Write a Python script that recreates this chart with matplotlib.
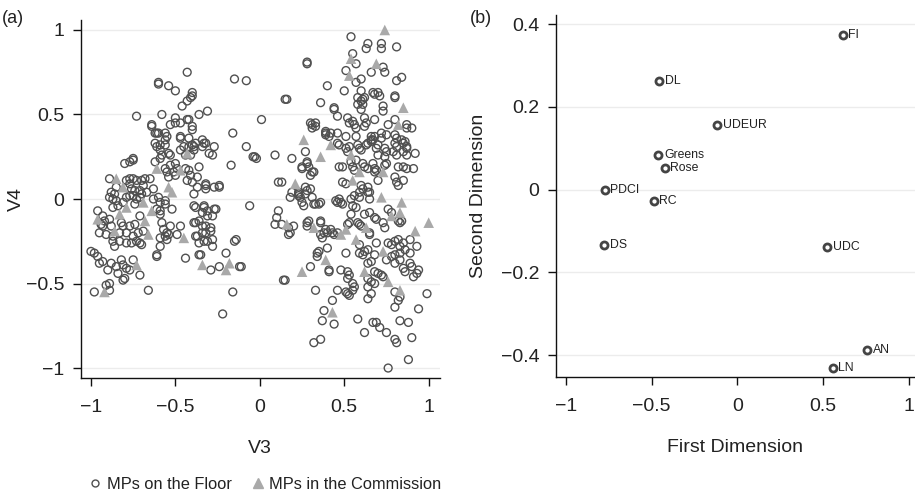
import matplotlib
matplotlib.use("Agg")
import matplotlib.pyplot as plt
from matplotlib.lines import Line2D

plt.rcParams['font.family'] = ['Liberation Sans', 'DejaVu Sans']

# ---------------- Panel (a) data ----------------
floor_left = [
    (-0.60,0.69),(-0.60,0.68),(-0.54,0.67),(-0.50,0.64),(-0.43,0.75),(-0.40,0.63),(-0.40,0.61),(-0.43,0.58),(-0.46,0.55),(-0.41,0.60),
    (-0.73,0.49),(-0.58,0.50),(-0.50,0.48),(-0.43,0.47),(-0.36,0.50),(-0.31,0.52),(-0.64,0.43),(-0.53,0.44),(-0.50,0.45),(-0.47,0.45),
    (-0.42,0.47),(-0.40,0.43),(-0.40,0.41),(-0.61,0.39),(-0.56,0.39),(-0.55,0.37),(-0.47,0.37),(-0.42,0.36),(-0.62,0.33),(-0.59,0.32),
    (-0.56,0.32),(-0.39,0.31),(-0.34,0.35),(-0.32,0.33),(-0.27,0.31),(-0.30,0.27),(-0.28,0.26),(-0.64,0.44),(-0.62,0.39),(-0.60,0.39),
    (-0.56,0.35),(-0.47,0.36),(-0.38,0.33),(-0.33,0.33),(-0.34,0.31),(-0.61,0.31),(-0.59,0.29),(-0.54,0.27),(-0.47,0.29),(-0.45,0.31),
    (-0.42,0.31),(-0.40,0.32),(-0.39,0.29),(-0.58,0.26),(-0.53,0.26),(-0.44,0.26),(-0.41,0.26),(-0.75,0.24),(-0.62,0.22),(-0.59,0.24),
    (-0.53,0.20),(-0.50,0.21),(-0.80,0.21),(-0.77,0.22),(-0.75,0.23),(-0.56,0.18),(-0.55,0.16),(-0.54,0.13),(-0.51,0.16),(-0.50,0.14),
    (-0.49,0.18),(-0.44,0.18),(-0.42,0.17),(-0.41,0.14),(-0.43,0.11),(-0.40,0.10),(-0.37,0.13),(-0.36,0.19),(-0.32,0.09),(-0.32,0.06),
    (-0.32,0.08),(-0.27,0.07),(-0.24,0.08),(-0.24,0.07),(-0.37,0.07),(-0.39,0.03),(-0.89,0.12),(-0.88,0.04),(-0.85,0.07),(-0.86,0.03),
    (-0.89,0.01),(-0.79,0.11),(-0.77,0.12),(-0.75,0.12),(-0.73,0.11),(-0.70,0.11),(-0.68,0.12),(-0.65,0.12),(-0.77,0.09),(-0.76,0.06),
    (-0.74,0.05),(-0.71,0.05),(-0.69,0.08),(-0.70,0.03),(-0.67,0.04),(-0.63,0.06),(-0.87,0.00),(-0.85,-0.01),(-0.84,-0.04),(-0.87,-0.05),
    (-0.81,-0.02),(-0.79,0.01),(-0.77,0.02),(-0.75,0.02),(-0.73,0.00),(-0.71,0.01),(-0.74,-0.03),(-0.63,0.00),(-0.60,0.01),(-0.59,-0.02),
    (-0.61,-0.06),(-0.59,-0.09),(-0.59,-0.07),(-0.56,-0.01),(-0.52,-0.06),(-0.56,-0.03),(-0.39,-0.04),(-0.38,-0.05),(-0.33,-0.05),(-0.34,-0.08),
    (-0.31,-0.10),(-0.26,-0.06),(-0.33,-0.04),(-0.31,-0.07),(-0.28,-0.10),(-0.27,-0.06),(-0.96,-0.07),(-0.93,-0.10),(-0.92,-0.13),(-0.94,-0.15),
    (-0.95,-0.20),(-0.91,-0.21),(-0.93,-0.16),(-0.89,-0.12),(-0.88,-0.16),(-0.87,-0.22),(-0.83,-0.20),(-0.87,-0.25),(-0.82,-0.14),(-0.81,-0.16),
    (-0.79,-0.20),(-0.77,-0.16),(-0.74,-0.15),(-0.75,-0.22),(-0.72,-0.20),(-0.73,-0.25),(-0.71,-0.10),(-0.69,-0.19),(-0.70,-0.27),(-0.71,-0.26),
    (-0.76,-0.26),(-0.79,-0.26),(-0.83,-0.25),(-0.86,-0.28),(-0.58,-0.14),(-0.57,-0.18),(-0.55,-0.20),(-0.56,-0.22),(-0.59,-0.23),(-0.55,-0.24),
    (-0.54,-0.21),(-0.53,-0.16),(-0.59,-0.28),(-0.61,-0.33),(-0.61,-0.34),(-0.47,-0.16),(-0.49,-0.21),(-0.38,-0.14),(-0.34,-0.16),(-0.29,-0.17),
    (-0.38,-0.22),(-0.36,-0.26),(-0.33,-0.25),(-0.31,-0.25),(-0.32,-0.20),(-0.28,-0.28),(-0.36,-0.13),(-0.32,-0.16),(-0.29,-0.19),(-0.34,-0.20),
    (-0.28,-0.24),(-0.39,-0.14),(-0.37,-0.22),(-0.36,-0.33),(-0.15,-0.25),(-0.44,-0.35),(-0.35,-0.33),(-0.20,-0.32),(-1.00,-0.31),(-0.98,-0.32),
    (-0.96,-0.34),(-0.95,-0.38),(-0.93,-0.37),(-0.90,-0.42),(-0.88,-0.38),(-0.85,-0.40),(-0.84,-0.44),(-0.82,-0.36),(-0.81,-0.39),(-0.80,-0.47),
    (-0.79,-0.41),(-0.77,-0.42),(-0.75,-0.36),(-0.71,-0.45),(-0.91,-0.51),(-0.89,-0.50),(-0.89,-0.54),(-0.98,-0.55),(-0.66,-0.54),(-0.81,-0.48),
    (-0.29,-0.42),(-0.24,-0.40),(-0.12,-0.40),(-0.16,-0.55),(-0.22,-0.68),
]

floor_mid = [
    (-0.15,0.71),(-0.08,0.70),(-0.16,0.39),(-0.08,0.31),(-0.03,0.25),(-0.04,0.25),(-0.02,0.24),(0.01,0.47),(-0.17,0.20),(0.09,0.26),
    (0.19,0.24),(0.15,0.59),(-0.06,-0.04),(-0.14,-0.24),(-0.11,-0.40),(0.14,-0.48),(0.11,0.10),(0.13,0.10),(0.19,0.04),(0.23,0.03),
    (0.24,0.01),(0.25,-0.02),(0.26,-0.04),(0.27,0.03),(0.30,0.06),(0.31,0.01),(0.33,-0.03),(0.36,-0.02),(0.11,-0.07),(0.10,-0.11),
    (0.09,-0.15),(0.13,-0.15),(0.17,-0.21),(0.20,-0.16),(0.28,0.81),(0.28,0.80),(0.27,0.28),(0.25,0.18),(0.28,0.21),(0.30,0.14),
    (0.31,0.16),(0.36,0.57),(0.40,0.67),(0.50,0.64),(0.33,0.45),(0.31,0.42),(0.44,0.53),(0.46,0.49),(0.39,0.39),(0.41,0.37),
    (0.42,0.39),(0.46,0.39),(0.16,0.59),
]

floor_right = [
    (0.54,0.96),(0.64,0.92),(0.63,0.89),(0.72,0.92),(0.72,0.89),(0.81,0.90),(0.55,0.86),(0.57,0.80),(0.51,0.76),(0.66,0.75),
    (0.74,0.75),(0.73,0.78),(0.57,0.69),(0.60,0.71),(0.84,0.72),(0.81,0.70),(0.60,0.64),(0.67,0.63),(0.68,0.62),(0.58,0.60),
    (0.61,0.59),(0.62,0.60),(0.71,0.61),(0.70,0.63),(0.80,0.60),(0.80,0.61),(0.58,0.56),(0.60,0.53),(0.61,0.56),(0.60,0.58),
    (0.73,0.55),(0.73,0.52),(0.44,0.54),(0.52,0.48),(0.53,0.45),(0.56,0.44),(0.57,0.42),(0.55,0.46),(0.62,0.48),(0.63,0.45),
    (0.62,0.43),(0.68,0.47),(0.76,0.44),(0.80,0.47),(0.90,0.42),(0.87,0.42),(0.87,0.44),(0.33,0.43),(0.30,0.45),(0.31,0.44),
    (0.39,0.40),(0.39,0.38),(0.51,0.37),(0.57,0.37),(0.66,0.37),(0.67,0.35),(0.66,0.35),(0.68,0.37),(0.72,0.39),(0.75,0.38),
    (0.72,0.36),(0.80,0.38),(0.81,0.36),(0.80,0.33),(0.84,0.35),(0.85,0.33),(0.86,0.34),(0.87,0.31),(0.46,0.33),(0.47,0.32),
    (0.51,0.30),(0.52,0.28),(0.53,0.31),(0.58,0.32),(0.59,0.30),(0.60,0.29),(0.63,0.32),(0.64,0.33),(0.66,0.34),(0.69,0.30),
    (0.70,0.26),(0.70,0.32),(0.74,0.30),(0.75,0.28),(0.74,0.25),(0.81,0.26),(0.81,0.31),(0.79,0.28),(0.85,0.28),(0.87,0.30),
    (0.87,0.26),(0.92,0.27),(0.28,0.22),(0.25,0.19),(0.29,0.19),(0.32,0.16),(0.47,0.19),(0.49,0.19),(0.54,0.22),(0.55,0.19),
    (0.56,0.17),(0.57,0.23),(0.61,0.21),(0.62,0.19),(0.64,0.18),(0.67,0.21),(0.68,0.18),(0.68,0.16),(0.69,0.17),(0.74,0.20),
    (0.75,0.21),(0.82,0.19),(0.85,0.19),(0.87,0.18),(0.91,0.18),(0.80,0.13),(0.81,0.10),(0.85,0.11),(0.82,0.08),(0.49,0.10),
    (0.51,0.09),(0.60,0.08),(0.61,0.06),(0.59,0.04),(0.64,0.07),(0.65,0.04),(0.70,0.11),(0.28,0.05),(0.27,0.07),(0.23,0.04),
    (0.18,0.01),(0.23,0.02),(0.32,-0.03),(0.35,-0.03),(0.45,-0.01),(0.46,-0.02),(0.47,0.00),(0.48,-0.02),(0.49,-0.03),(0.54,0.00),
    (0.56,0.02),(0.59,0.01),(0.64,0.04),(0.65,0.00),(0.55,-0.04),(0.57,-0.05),(0.76,-0.06),(0.78,-0.08),(0.82,-0.13),(0.83,-0.14),
    (0.84,-0.13),(0.62,-0.09),(0.65,-0.08),(0.68,-0.11),(0.69,-0.12),(0.73,-0.14),(0.74,-0.17),(0.54,-0.09),(0.53,-0.14),(0.58,-0.14),
    (0.59,-0.15),(0.60,-0.16),(0.52,-0.15),(0.17,-0.17),(0.18,-0.20),(0.28,-0.14),(0.28,-0.16),(0.29,-0.13),(0.36,-0.14),(0.36,-0.13),
    (0.39,-0.18),(0.38,-0.20),(0.37,-0.23),(0.36,-0.21),(0.40,-0.20),(0.42,-0.18),(0.43,-0.20),(0.44,-0.21),(0.46,-0.20),(0.65,-0.20),
    (0.65,-0.21),(0.69,-0.26),(0.76,-0.26),(0.78,-0.27),(0.80,-0.25),(0.82,-0.24),(0.85,-0.26),(0.83,-0.28),(0.86,-0.30),(0.89,-0.24),
    (0.89,-0.32),(0.93,-0.28),(0.59,-0.27),(0.59,-0.32),(0.62,-0.31),(0.61,-0.33),(0.64,-0.30),(0.68,-0.33),(0.66,-0.37),(0.64,-0.38),
    (0.51,-0.32),(0.34,-0.32),(0.34,-0.34),(0.35,-0.31),(0.40,-0.29),(0.30,-0.40),(0.41,-0.42),(0.41,-0.43),(0.48,-0.42),(0.52,-0.43),
    (0.53,-0.45),(0.52,-0.47),(0.75,-0.36),(0.78,-0.34),(0.80,-0.33),(0.83,-0.32),(0.83,-0.36),(0.80,-0.38),(0.85,-0.41),(0.89,-0.38),
    (0.90,-0.40),(0.86,-0.43),(0.91,-0.46),(0.93,-0.44),(0.94,-0.42),(0.68,-0.43),(0.70,-0.44),(0.72,-0.45),(0.73,-0.46),(0.64,-0.47),
    (0.64,-0.52),(0.66,-0.49),(0.68,-0.50),(0.55,-0.50),(0.56,-0.52),(0.55,-0.54),(0.51,-0.55),(0.53,-0.57),(0.52,-0.56),(0.46,-0.54),
    (0.33,-0.54),(0.15,-0.48),(0.64,-0.59),(0.66,-0.56),(0.80,-0.55),(0.83,-0.58),(0.82,-0.60),(0.80,-0.64),(0.94,-0.65),(0.99,-0.56),
    (0.43,-0.60),(0.38,-0.66),(0.37,-0.72),(0.44,-0.74),(0.58,-0.71),(0.62,-0.79),(0.67,-0.73),(0.69,-0.73),(0.71,-0.76),(0.75,-0.79),
    (0.83,-0.72),(0.88,-0.73),(0.80,-0.83),(0.81,-0.85),(0.90,-0.82),(0.32,-0.85),(0.36,-0.83),(0.88,-0.95),(0.76,-1.00),
]

commission = [
    (-0.85,0.12),(-0.81,0.07),(-0.61,0.18),(-0.47,0.17),(-0.43,0.27),(-0.54,0.07),(-0.52,0.04),(-0.69,-0.02),(-0.79,-0.05),(-0.64,-0.07),
    (-0.83,-0.09),(-0.96,-0.12),(-0.68,-0.13),(-0.86,-0.19),(-0.66,-0.21),(-0.45,-0.23),(-0.73,-0.39),(-0.34,-0.39),(-0.18,-0.38),(-0.20,-0.42),
    (-0.92,-0.55),(0.74,1.00),(0.54,0.83),(0.69,0.80),(0.53,0.73),(0.85,0.54),(0.82,0.44),(0.26,0.35),(0.42,0.32),(0.36,0.25),
    (0.54,0.26),(0.59,0.16),(0.73,0.16),(0.55,0.11),(0.21,0.09),(0.72,0.01),(0.84,-0.02),(0.78,-0.10),(0.83,-0.08),(1.00,-0.14),
    (0.92,-0.19),(0.16,-0.15),(0.32,-0.17),(0.48,-0.21),(0.51,-0.18),(0.63,-0.17),(0.57,-0.24),(0.73,-0.31),(0.39,-0.36),(0.25,-0.43),
    (0.62,-0.43),(0.76,-0.49),(0.83,-0.54),(0.43,-0.67),
]

# ---------------- Panel (b) data ----------------
parties = ["FI", "DL", "UDEUR", "Greens", "Rose", "PDCI", "RC", "DS", "UDC", "AN", "LN"]
party_x = [0.614, -0.457, -0.118, -0.461, -0.423, -0.773, -0.488, -0.777, 0.525, 0.758, 0.556]
party_y = [0.373, 0.263, 0.155, 0.083, 0.053, -0.002, -0.027, -0.133, -0.140, -0.388, -0.430]

ticks_a = [-1, -0.5, 0, 0.5, 1]
ticks_a_lbl = ["\u22121", "\u22120.5", "0", "0.5", "1"]
ticks_by = [-0.4, -0.2, 0, 0.2, 0.4]
ticks_by_lbl = ["\u22120.4", "\u22120.2", "0", "0.2", "0.4"]

# ---------------- Figure ----------------
fig = plt.figure(figsize=(9.15, 4.94), dpi=100)
axa = fig.add_axes([0.0885, 0.2348, 0.392, 0.7247])
axb = fig.add_axes([0.6077, 0.2368, 0.392, 0.733])

circ_col = "#505050"
tri_col = "#a9a9a9"
txt_col = "#222222"

floor_all = floor_left + floor_mid + floor_right
fx = [p[0] for p in floor_all]
fy = [p[1] for p in floor_all]
cx = [p[0] for p in commission]
cy = [p[1] for p in commission]

axa.scatter(fx, fy, s=32, facecolors="none", edgecolors=circ_col, linewidths=1.0, zorder=3)
axa.scatter(cx, cy, s=58, marker="^", color=tri_col, edgecolors="none", zorder=4)

axa.set_xlim(-1.059, 1.065)
axa.set_ylim(-1.059, 1.059)
axb.set_xlim(-1.058, 1.035)
axb.set_ylim(-0.453, 0.422)

for ax in (axa, axb):
    for s in ("top", "right"):
        ax.spines[s].set_visible(False)
    for s in ("left", "bottom"):
        ax.spines[s].set_color("#111111")
        ax.spines[s].set_linewidth(1.0)
    ax.tick_params(axis="both", length=6, width=1.0, color="#111111",
                   labelsize=14, labelcolor=txt_col, pad=6)
    ax.tick_params(axis="x", pad=9)
    ax.set_axisbelow(True)
    ax.grid(axis="y", color="#ececec", linewidth=1.0)
    ax.set_xticks(ticks_a)
    ax.set_xticklabels(ticks_a_lbl)

axa.set_yticks(ticks_a)
axa.set_yticklabels(ticks_a_lbl)
axb.set_yticks(ticks_by)
axb.set_yticklabels(ticks_by_lbl)

axa.set_xlabel("V3", fontsize=14, color=txt_col)
axa.xaxis.set_label_coords(0.5, -0.173)
axa.set_ylabel("V4", fontsize=14, color=txt_col)
axa.yaxis.set_label_coords(-0.156, 0.5)
axb.set_xlabel("First Dimension", fontsize=14, color=txt_col)
axb.xaxis.set_label_coords(0.5, -0.171)
axb.set_ylabel("Second Dimension", fontsize=14, color=txt_col)
axb.yaxis.set_label_coords(-0.192, 0.5)

axb.scatter(party_x, party_y, s=26, facecolors="white", edgecolors="#444444", linewidths=2.0, zorder=3)
for name, x, y in zip(parties, party_x, party_y):
    axb.annotate(name, (x, y), xytext=(4, 0), textcoords="offset points",
                 ha="left", va="center", fontsize=8.8, color=txt_col)

fig.text(0.002, 0.962, "(a)", fontsize=13, color=txt_col, ha="left", va="center")
fig.text(0.514, 0.962, "(b)", fontsize=13, color=txt_col, ha="left", va="center")

handles = [
    Line2D([], [], marker="o", linestyle="none", markerfacecolor="none",
           markeredgecolor=circ_col, markersize=5, markeredgewidth=1.0),
    Line2D([], [], marker="^", linestyle="none", color=tri_col, markersize=7),
]
fig.legend(handles, ["MPs on the Floor", "MPs in the Commission"], loc="center",
           bbox_to_anchor=(0.288, 0.019), ncol=2, frameon=False, fontsize=11.8,
           handletextpad=0.1, columnspacing=1.0, handlelength=1.2,
           labelcolor=txt_col)

fig.savefig("out.png", dpi=100)
